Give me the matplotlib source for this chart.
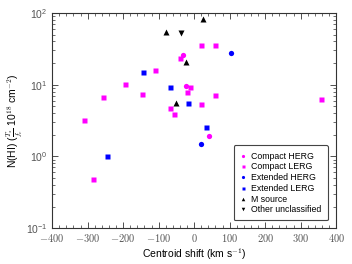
import matplotlib
matplotlib.use("Agg")
import matplotlib.pyplot as plt
from matplotlib.ticker import MultipleLocator, LogLocator, NullFormatter

plt.rcParams['font.family'] = ['Liberation Sans', 'DejaVu Sans']
plt.rcParams['mathtext.fontset'] = 'cm'

# Compact HERG (magenta circles)
chg_x = [-30, -22, 43]
chg_y = [25.9, 9.5, 1.9]
# Compact LERG (magenta squares)
clg_x = [18, 58, -39, -109, -11, -21, -147, 60, 18, -68, -58, -196, -257, -310, -286, 357]
clg_y = [36, 35.3, 23.7, 15.8, 9.4, 7.85, 7.5, 7.06, 5.3, 4.74, 3.96, 10.2, 6.75, 3.19, 0.49, 6.33]
# Extended HERG (blue circles)
ehg_x = [103, 20]
ehg_y = [27.3, 1.5]
# Extended LERG (blue squares)
elg_x = [-143, -68, -16, 34, -244]
elg_y = [14.8, 9.4, 5.6, 2.6, 1.0]
# M source (black up triangles)
m_x = [26, -79, -22.5, -51]
m_y = [81.6, 54.7, 20.8, 5.57]
# Other unclassified (black down triangles)
o_x = [-36]
o_y = [52]

fig = plt.figure(figsize=(3.52, 2.64), dpi=100)
ax = fig.add_axes([0.148, 0.136, 0.807, 0.815])

ax.plot(chg_x, chg_y, 'o', color='#ff00ff', ms=3.8, mec='none', label='Compact HERG')
ax.plot(clg_x, clg_y, 's', color='#ff00ff', ms=3.6, mec='none', label='Compact LERG')
ax.plot(ehg_x, ehg_y, 'o', color='#0000ff', ms=3.8, mec='none', label='Extended HERG')
ax.plot(elg_x, elg_y, 's', color='#0000ff', ms=3.6, mec='none', label='Extended LERG')
ax.plot(m_x, m_y, '^', color='black', ms=4.2, mec='none', label='M source')
ax.plot(o_x, o_y, 'v', color='black', ms=4.2, mec='none', label='Other unclassified')

ax.set_yscale('log')
ax.set_xlim(-400, 400)
ax.set_ylim(0.1, 100)
ax.xaxis.set_major_locator(MultipleLocator(100))
ax.xaxis.set_minor_locator(MultipleLocator(20))
ax.yaxis.set_major_locator(LogLocator(base=10))
ax.yaxis.set_minor_locator(LogLocator(base=10, subs=range(2, 10)))
ax.yaxis.set_minor_formatter(NullFormatter())
ax.xaxis.set_major_formatter(matplotlib.ticker.FuncFormatter(lambda v, p: r'$%d$' % v if v >= 0 else r'$-%d$' % (-v)))

ax.tick_params(which='both', direction='in', top=True, right=True, labelsize=7.5, colors='#333333', labelcolor='#555555')
ax.tick_params(which='major', length=4, width=0.6)
ax.tick_params(axis='x', which='major', pad=3)
ax.tick_params(axis='y', which='major', pad=3.5)
ax.tick_params(which='minor', length=2, width=0.5)
for s in ax.spines.values():
    s.set_linewidth(0.8)
    s.set_color('#333333')

ax.set_xlabel(r'Centroid shift (km s$^{-1}$)', fontsize=7.5, labelpad=1.5)
ax.set_ylabel(r'N(HI) ($\frac{T_s}{f_c}$ 10$^{18}$ cm$^{-2}$)', fontsize=7.5, labelpad=0.5)

leg = ax.legend(loc='lower right', fontsize=6.3, markerscale=0.6, handlelength=0.8,
                handletextpad=0.5, labelspacing=0.2, borderpad=0.7,
                fancybox=True, framealpha=1, edgecolor='#444444', numpoints=1,
                bbox_to_anchor=(0.985, 0.015))
leg.get_frame().set_linewidth(0.8)

fig.savefig('out.png', dpi=100)
